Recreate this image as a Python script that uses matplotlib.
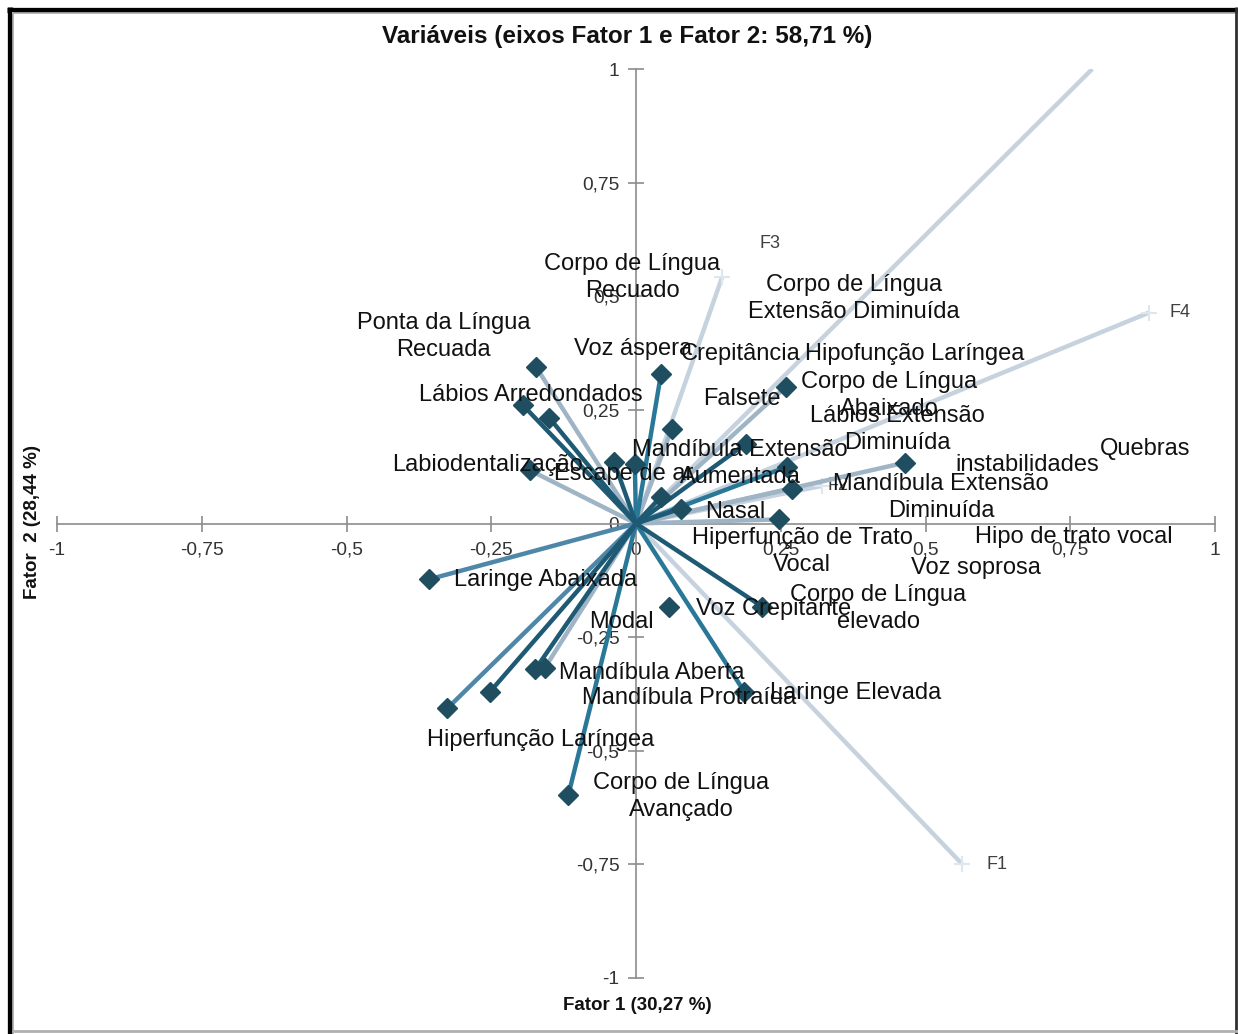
import matplotlib
matplotlib.use("Agg")
import matplotlib.pyplot as plt
from matplotlib.lines import Line2D

plt.rcParams['font.family'] = ['Liberation Sans', 'DejaVu Sans']

# ---- active variables (coordinates on Fator 1 / Fator 2) ----
var_x = [-0.173, -0.195, -0.150, -0.183, -0.038, -0.002, 0.043, 0.062, 0.259, 0.190,
         0.261, 0.269, 0.043, 0.078, 0.247, 0.465, -0.358, 0.057, 0.218, -0.174,
         -0.157, -0.326, -0.252, 0.187, -0.117]
var_y = [0.345, 0.260, 0.233, 0.117, 0.136, 0.130, 0.328, 0.209, 0.301, 0.176,
         0.125, 0.077, 0.059, 0.033, 0.009, 0.134, -0.123, -0.183, -0.183, -0.321,
         -0.317, -0.407, -0.370, -0.370, -0.598]
# line shade group of each vector
var_shade = ['light', 'dark', 'dark', 'light', 'dark', 'teal', 'teal', 'light', 'light', 'dark',
             'teal', 'light', 'dark', 'dark', 'light', 'light', 'medium', 'none', 'dark', 'dark',
             'light', 'medium', 'dark', 'teal', 'teal']

# ---- supplementary variables (factors) ----
sup_names = ['F1', 'F2', 'F3', 'F4', '']
sup_x = [0.563, 0.322, 0.149, 0.886, 0.788]
sup_y = [-0.749, 0.083, 0.543, 0.464, 1.0]

# ---- labels of the variables ----
labels = ["Corpo de Língua\nRecuado", "Ponta da Língua\nRecuada", "Corpo de Língua\nExtensão Diminuída",
          "Voz áspera", "Crepitância", "Hipofunção Laríngea", "Corpo de Língua\nAbaixado",
          "Lábios Arredondados", "Falsete", "Lábios Extensão\nDiminuída", "Labiodentalização",
          "Escape de ar", "Mandíbula Extensão\nAumentada", "Quebras", "instabilidades",
          "Mandíbula Extensão\nDiminuída", "Nasal", "Hiperfunção de Trato\nVocal",
          "Hipo de trato vocal", "Voz soprosa", "Laringe Abaixada", "Modal", "Voz Crepitante",
          "Corpo de Língua\nelevado", "Mandíbula Aberta", "Mandíbula Protraída", "Laringe Elevada",
          "Hiperfunção Laríngea", "Corpo de Língua\nAvançado"]
label_x = [-0.007, -0.332, 0.377, -0.005, 0.181, 0.482, 0.437, -0.181, 0.183, 0.451, -0.256,
           -0.022, 0.180, 0.879, 0.675, 0.527, 0.171, 0.287, 0.756, 0.587, -0.157, -0.026,
           0.238, 0.418, 0.028, 0.092, 0.380, -0.164, 0.078]
label_y = [0.541, 0.411, 0.495, 0.383, 0.374, 0.374, 0.282, 0.282, 0.273, 0.207, 0.128,
           0.110, 0.132, 0.165, 0.128, 0.057, 0.026, -0.062, -0.029, -0.099, -0.125, -0.216,
           -0.189, -0.187, -0.328, -0.385, -0.374, -0.477, -0.601]

sup_label_x = [0.606, 0.330, 0.214, 0.922]
sup_label_y = [-0.750, 0.083, 0.616, 0.464]

ticks = [-1, -0.75, -0.5, -0.25, 0, 0.25, 0.5, 0.75, 1]
tick_labels = ['-1', '-0,75', '-0,5', '-0,25', '0', '0,25', '0,5', '0,75', '1']

shade_colors = {'dark': '#1f5a74', 'teal': '#2a7898', 'medium': '#4f87a8',
                'light': '#9fb5c6', 'none': 'none'}
sup_color = '#c6d3de'
marker_color = '#1e4e60'

W, H = 1238, 1034
fig = plt.figure(figsize=(W / 100, H / 100), dpi=100)
ax = fig.add_axes([57 / W, (H - 978) / H, 1158 / W, 909 / H])
ax.set_xlim(-1, 1)
ax.set_ylim(-1, 1)

# supplementary vectors
for nm, x, y in zip(sup_names, sup_x, sup_y):
    ax.plot([0, x], [0, y], color=sup_color, lw=3.2, solid_capstyle='butt', zorder=2)
    if nm:
        ax.plot([x], [y], marker='+', ms=12, mew=1.5, color='#dfe6ec', zorder=2)
for nm, x, y in zip(sup_names, sup_label_x, sup_label_y):
    ax.text(x, y, nm, fontsize=13, color='#404040', ha='left', va='center', zorder=3)

# active vectors
order = ['light', 'medium', 'teal', 'dark']
for grp in order:
    for x, y, s in zip(var_x, var_y, var_shade):
        if s == grp:
            ax.plot([0, x], [0, y], color=shade_colors[s], lw=3.2, solid_capstyle='butt', zorder=3)
ax.plot(var_x, var_y, linestyle='none', marker='D', ms=10.5, color=marker_color,
        markeredgecolor=marker_color, zorder=5)

for t, x, y in zip(labels, label_x, label_y):
    ax.text(x, y, t, fontsize=17, color='#111111', ha='center', va='center',
            linespacing=1.3, zorder=6)

# axes through origin
for sp in ['left', 'bottom']:
    ax.spines[sp].set_position(('data', 0))
    ax.spines[sp].set_color('#8c8c8c')
    ax.spines[sp].set_linewidth(1.2)
for sp in ['right', 'top']:
    ax.spines[sp].set_visible(False)
ax.set_xticks(ticks)
ax.set_xticklabels(tick_labels)
ax.set_yticks(ticks)
ax.set_yticklabels(tick_labels)
ax.tick_params(axis='both', direction='inout', length=12, width=1.2, color='#8c8c8c',
               labelsize=13.8, labelcolor='#333333')
ax.tick_params(axis='x', pad=7)
ax.tick_params(axis='y', pad=6)
ax.set_zorder(1)
ax.patch.set_visible(False)

fig.text(627 / W, 1 - 37 / H, 'Variáveis (eixos Fator 1 e Fator 2: 58,71 %)', fontsize=17.5,
         fontweight='bold', ha='center', va='center', color='#111111')
fig.text(637 / W, 1 - 1006 / H, 'Fator 1 (30,27 %)', fontsize=13.5, fontweight='bold',
         ha='center', va='center', color='#111111')
fig.text(33 / W, 1 - 522 / H, 'Fator  2 (28,44 %)', fontsize=13.5, fontweight='bold',
         ha='center', va='center', rotation=90, color='#111111')

# frame
def fline(x0, y0, x1, y1, c, lw):
    fig.add_artist(Line2D([x0 / W, x1 / W], [1 - y0 / H, 1 - y1 / H], color=c, lw=lw,
                          transform=fig.transFigure, solid_capstyle='butt'))

fline(7, 9.5, 1238, 9.5, '#000000', 3.8)
fline(9.5, 7, 9.5, 1034, '#000000', 3.8)
fline(12, 13, 1238, 13, '#b0b0b0', 1.2)
fline(13, 12, 13, 1034, '#b0b0b0', 1.2)
fline(1236, 7, 1236, 1034, '#303030', 2.0)
fline(12, 1031, 1238, 1031, '#b0b0b0', 2.0)

fig.savefig('out.png', dpi=100, facecolor='white')
